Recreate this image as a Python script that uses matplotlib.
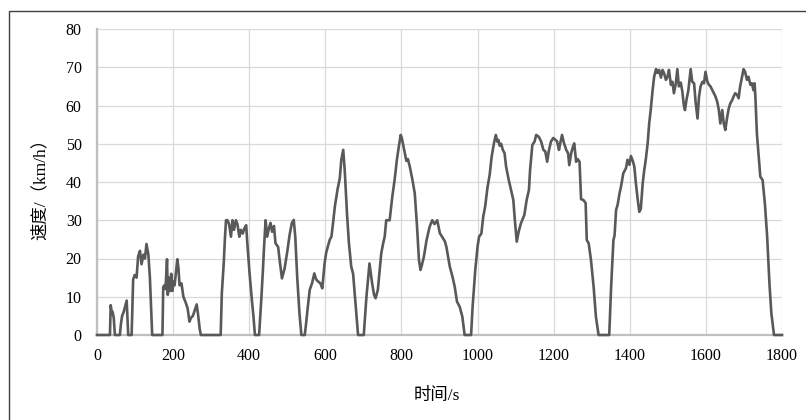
import numpy as np
import matplotlib.pyplot as plt
from matplotlib.patches import Rectangle

# 工况数据：时间(s) 与 速度(km/h)
time_s = [
    0, 34, 36, 38, 41, 44, 47, 60, 63, 66, 70, 74, 78, 82,
    91, 95, 99, 104, 108, 113, 117, 122, 126, 130, 135, 139, 145,
    172, 174, 177, 180, 184, 186, 189, 192, 195, 198, 201, 204, 208, 211, 214, 217, 222,
    227, 233, 238, 243, 247, 252, 257, 262, 266, 270, 273,
    325, 328, 333, 336, 339, 343, 347, 352, 356, 360, 365, 369, 374, 378, 383, 387, 392,
    395, 401, 407, 411, 415,
    426, 432, 436, 439, 443, 447, 452, 456, 460, 465, 469, 476, 481, 486, 493, 500, 506,
    512, 517, 521, 526, 532, 537,
    546, 550, 554, 559, 565, 571, 576, 581, 587, 592, 598, 602, 607, 612, 616, 620, 625,
    632, 638, 642, 647, 651, 657, 662, 668, 673, 680, 686,
    701, 708, 716, 723, 728, 732, 738, 747, 752, 756, 760, 769, 776, 782, 788, 793, 798,
    801, 804, 809, 813, 817, 822, 829, 835, 841, 846, 850, 853, 859, 866, 874, 881, 887,
    894, 901, 908, 914, 918, 927, 934, 940, 946, 953, 960, 966,
    983, 987, 992, 994, 1000, 1004, 1010, 1015, 1020, 1026, 1032, 1037, 1043, 1048, 1052,
    1055, 1058, 1062, 1066, 1071, 1075, 1082, 1088, 1094, 1098, 1103, 1108, 1114, 1123,
    1129, 1135, 1138, 1144, 1150, 1154, 1161, 1167, 1173, 1178, 1183, 1187, 1193, 1199,
    1205, 1209, 1214, 1217, 1222, 1227, 1233, 1238, 1241, 1246, 1250, 1254, 1259, 1263,
    1268, 1272, 1278, 1284, 1287, 1292, 1298, 1305, 1311, 1318,
    1346, 1351, 1357, 1360, 1364, 1368, 1373, 1377, 1383, 1390, 1394, 1399, 1403, 1408,
    1412, 1416, 1421, 1425, 1429, 1434, 1438, 1442, 1447, 1451, 1455, 1460, 1464, 1469,
    1473, 1477, 1482, 1486, 1490, 1495, 1499, 1503, 1508, 1512, 1516, 1521, 1525, 1529,
    1534, 1538, 1542, 1545, 1549, 1554, 1560, 1564, 1569, 1573, 1578, 1582, 1586, 1591,
    1595, 1599, 1604, 1608, 1612, 1617, 1621, 1625, 1630, 1634, 1638, 1643, 1647, 1651,
    1656, 1660, 1664, 1669, 1673, 1677, 1682, 1686, 1690, 1695, 1699, 1703, 1708, 1712,
    1717, 1721, 1725, 1728, 1730, 1734, 1739, 1743, 1749, 1755, 1761, 1767, 1772, 1779,
    1800,
]
speed_kmh = [
    0, 0, 7.8, 6.5, 6, 4.5, 0, 0, 3, 5, 6, 7.5, 9, 0,
    0, 14.5, 15.7, 15, 20.5, 22, 18.5, 21, 20, 23.8, 21, 15, 0,
    0, 12.5, 13, 12, 19.8, 10.5, 15, 11.5, 16, 11.5, 14, 13, 17, 19.8, 17.5, 13, 13.5,
    10, 8.5, 7, 3.5, 4.5, 5, 6.5, 8, 5, 1.5, 0,
    0, 10.9, 18.7, 25, 30, 30, 29, 25.7, 30, 27.5, 30, 29, 25.7, 27.5, 26.5, 27.8, 28.7,
    24, 16, 9.1, 5, 0,
    0, 9.8, 17, 23, 30, 25.7, 28, 29.3, 27, 28.5, 24, 23, 18.7, 14.8, 17.4, 21.8, 26.1,
    29.3, 30.1, 25.7, 15.3, 5.7, 0,
    0, 3.5, 7.4, 11.8, 13.5, 16.1, 14.5, 14, 13.5, 12.2, 18.7, 21.4, 23.3, 25, 25.7, 29, 33.6,
    38, 41, 45.8, 48.4, 43, 31.6, 24, 17.9, 16, 7.4, 0,
    0, 10, 18.7, 13.5, 10.5, 9.6, 11.8, 21.4, 24, 25.7, 30, 30, 36.2, 40.5, 45.8, 49.2, 52.3,
    51.5, 50, 47.5, 45.5, 46, 44, 40.5, 37, 28.3, 19.6, 17, 18, 20.5, 24.8, 28.3, 30, 29,
    30, 26.6, 25.5, 24.5, 23.1, 17.9, 15.3, 12.6, 8.7, 7.4, 4.8, 0,
    0, 7.4, 14.4, 17, 23.1, 25.7, 26.5, 31, 33.6, 38.5, 42, 46.6, 50.1, 52.3, 50.5,
    51, 49.5, 50, 48.5, 47.5, 44, 40.5, 37.9, 35.3, 30, 24.4, 27, 29.2, 31.4,
    35.3, 37.9, 43.1, 49.7, 50.6, 52.3, 51.8, 50.6, 48.4, 48, 45.3, 48, 50.6, 51.5,
    51, 50.6, 48.4, 50, 52.3, 50.2, 48.4, 47.5, 44.4, 47.5, 49, 50.1, 45.3, 46,
    45.3, 35.5, 35.3, 34.5, 24.8, 24, 19.6, 12.6, 4.8, 0,
    0, 12.6, 24.8, 26, 32.7, 34, 37, 38.8, 42.3, 43.6, 45.8, 44.5, 46.8, 45.5,
    44, 39.7, 35.3, 32.2, 33, 39.7, 43.1, 45.8, 50.1, 55.3, 58.8, 64, 67.5, 69.5,
    68.5, 69.3, 67.3, 69.3, 68.5, 66.7, 67.5, 69.3, 65.4, 66.2, 63.2, 65.8, 69.5, 65,
    66, 63.7, 60.1, 58.8, 61.5, 64, 69.5, 66.2, 65.8, 60.9, 56.6, 62.4, 65, 66.2,
    65.8, 68.8, 66.2, 65.4, 65, 64, 63.2, 62.4, 60.9, 58.8, 55.3, 58.8, 55.3, 53.6,
    57, 59.2, 60.5, 61.4, 62.4, 63.2, 62.8, 61.9, 65, 67.5, 69.5, 68.8, 66.7, 67.5,
    65.4, 65.8, 64, 65.8, 62.4, 52.7, 46.5, 41.4, 40.5, 34.4, 25.7, 13.5, 5.7, 0,
    0,
]

x_ticks = [0, 200, 400, 600, 800, 1000, 1200, 1400, 1600, 1800]
y_ticks = [0, 10, 20, 30, 40, 50, 60, 70, 80]


def main():
    plt.rcParams['font.family'] = ['Liberation Serif', 'Noto Sans CJK SC', 'DejaVu Sans']

    fig = plt.figure(figsize=(8.06, 4.2), dpi=100)
    ax = fig.add_axes([97 / 806, 85 / 420, 685 / 806, 306 / 420])

    ax.plot(np.array(time_s), np.array(speed_kmh), color='#595959', lw=1.9,
            solid_joinstyle='round', clip_on=False, zorder=5)

    ax.set_xlim(0, 1800)
    ax.set_ylim(0, 80)
    ax.set_xticks(x_ticks)
    ax.set_yticks(y_ticks)
    ax.grid(True, color='#d9d9d9', lw=0.9)
    ax.set_axisbelow(True)
    ax.tick_params(length=0, labelsize=11.5, colors='#000000')
    ax.tick_params(axis='x', pad=9)
    ax.tick_params(axis='y', pad=11)

    for side in ['top', 'right']:
        ax.spines[side].set_visible(False)
    for side in ['left', 'bottom']:
        ax.spines[side].set_color('#bfbfbf')
        ax.spines[side].set_linewidth(1.6)

    # 轴标题
    fig.text(437 / 806, 1 - 396 / 420, '时间/s', ha='center', va='center', fontsize=12.5)
    fig.text(40 / 806, 1 - 185 / 420, '速度/（km/h）', ha='center', va='center',
             rotation=90, fontsize=12.5)

    # 外框（右、下被截掉）
    frame = Rectangle((9 / 806, -0.2), 2.0, 1.2 - 10.5 / 420, transform=fig.transFigure,
                      fill=False, edgecolor='#404040', lw=1.0)
    fig.patches.append(frame)

    fig.savefig('out.png', dpi=100)


if __name__ == "__main__":
    main()
